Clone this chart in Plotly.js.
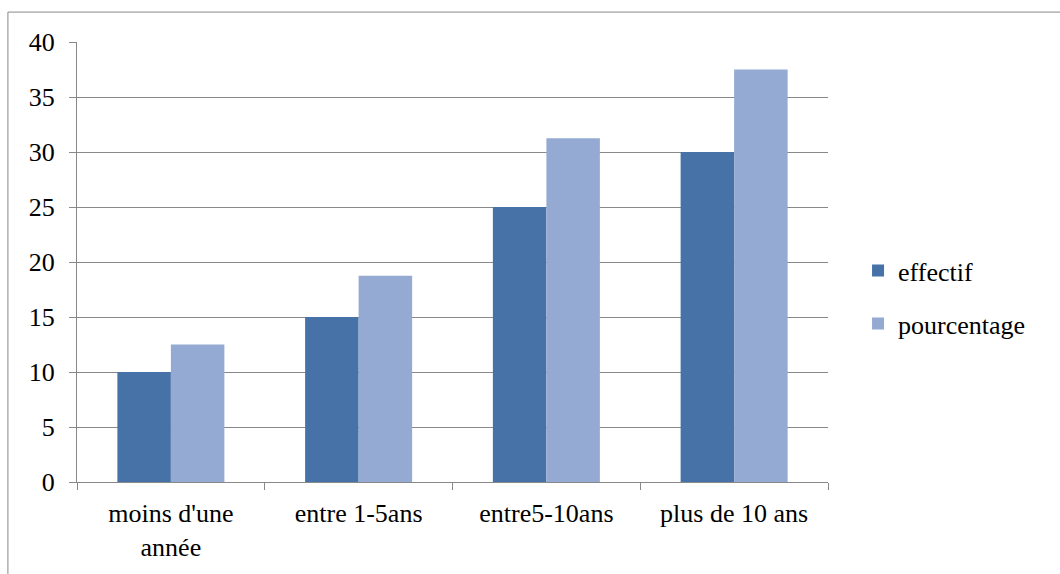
<!DOCTYPE html>
<html>
<head>
<meta charset="utf-8">
<script src="https://cdn.plot.ly/plotly-3.0.1.min.js"></script>
<style>
  html, body { margin: 0; padding: 0; background: #fff; overflow: hidden; }
  #chart { width: 1060px; height: 574px; }
</style>
</head>
<body>
<div id="chart"></div>
<script>
// Seniority groups and their counts / percentages
const categories = ["moins d'une<br>année", "entre 1-5ans", "entre5-10ans", "plus de 10 ans"];
const effectif = [10, 15, 25, 30];
const pourcentage = [12.5, 18.75, 31.25, 37.5];
const yTicks = [0, 5, 10, 15, 20, 25, 30, 35, 40];

const fontFamily = 'Liberation Serif';
const fontSize = 26;

const traces = [
  {
    type: 'bar', name: 'effectif', x: categories, y: effectif,
    marker: { color: '#4672A8' }, legendgroup: 'a'
  },
  {
    type: 'bar', name: 'pourcentage', x: categories, y: pourcentage,
    marker: { color: '#95AAD3' }, legendgroup: 'b'
  }
];

// Outer frame of the chart area (left and top edges, the rest runs off the page)
const frameLeft = -0.092, frameTop = 1.068;

const layout = {
  width: 1060, height: 574,
  margin: { l: 77, r: 232, t: 42, b: 92 },
  barmode: 'group',
  bargap: 0.43,
  bargroupgap: 0,
  font: { family: fontFamily, size: fontSize, color: '#000' },
  showlegend: true,
  legend: {
    x: 1.04, xanchor: 'left', y: 0.42, yanchor: 'middle',
    font: { family: fontFamily, size: fontSize, color: '#000' },
    tracegroupgap: 16, itemwidth: 30
  },
  shapes: [
    { type: 'line', xref: 'paper', yref: 'paper', x0: frameLeft, x1: frameLeft, y0: -0.5, y1: frameTop,
      line: { color: '#888', width: 1 } },
    { type: 'line', xref: 'paper', yref: 'paper', x0: frameLeft, x1: 1.6, y0: frameTop, y1: frameTop,
      line: { color: '#888', width: 1 } }
  ],
  xaxis: {
    type: 'category',
    showline: true, linecolor: '#888', linewidth: 1,
    ticks: 'outside', tickson: 'boundaries', ticklen: 7, tickcolor: '#888',
    ticklabelstandoff: 8,
    showgrid: false,
    tickfont: { family: fontFamily, size: fontSize, color: '#000' }
  },
  yaxis: {
    range: [0, 40], tickvals: yTicks, ticktext: yTicks.map(String),
    showline: true, linecolor: '#888', linewidth: 1,
    ticks: 'outside', ticklen: 7, tickcolor: '#888',
    ticklabelstandoff: 9,
    showgrid: true, gridcolor: '#888', gridwidth: 1,
    zeroline: false,
    tickfont: { family: fontFamily, size: fontSize, color: '#000' }
  }
};

Plotly.newPlot('chart', traces, layout, { staticPlot: true });
</script>
</body>
</html>
